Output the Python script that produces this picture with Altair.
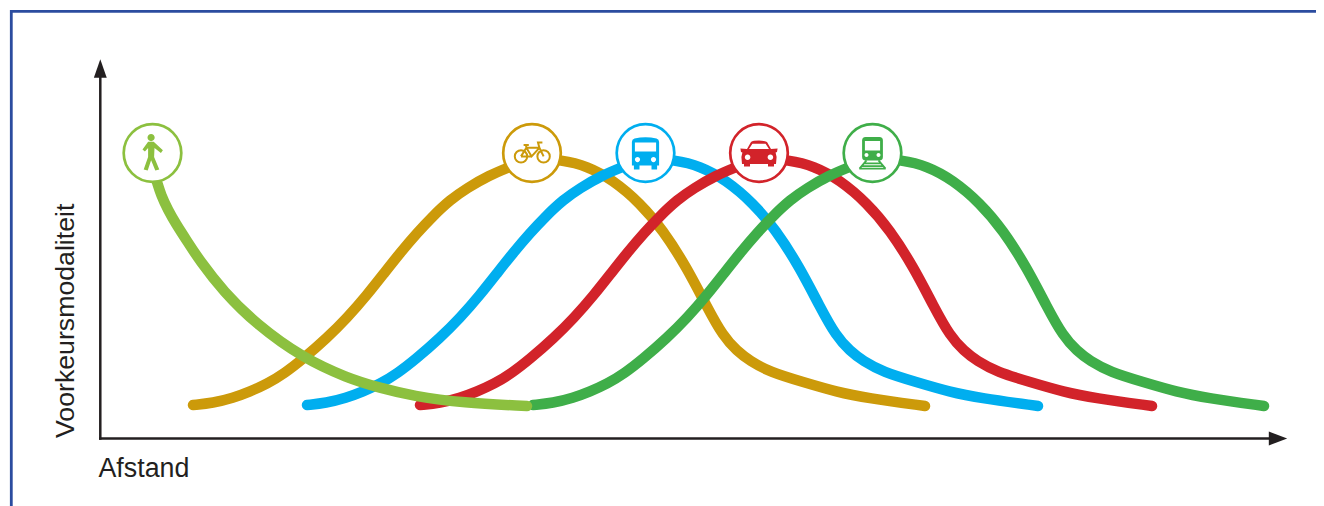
import altair as alt
import pandas as pd

TITLE_X = "Afstand"
TITLE_Y = "Voorkeursmodaliteit"
INK = "#231f20"
FRAME = "#2b4c9f"

walk_x = [157, 161, 168, 176, 187, 200, 223, 257, 303, 347, 380, 413, 463, 527]
walk_y = [182, 195, 210, 224, 241, 261, 291, 325, 358, 378, 388, 396, 403, 406]

curve_y = [405, 403, 398, 391.5, 384, 373, 359, 338, 318, 295, 272, 253, 233, 216, 200, 188, 175, 168, 158, 160, 166, 180, 203, 230, 268, 307, 336, 351, 361, 372, 382, 392, 398, 406]
fiets_x = [193, 213, 233, 250, 267, 285, 303, 327, 347, 367, 385, 400, 417, 433, 450, 467, 490, 507, 532, 562, 587, 613, 640, 663, 687, 707, 723, 737, 750, 770, 803, 837, 867, 925]
bus_x = [307, 326, 346, 363, 380, 398, 416, 440, 460, 480, 498, 513, 530, 546, 563, 580, 603, 620, 645, 675, 700, 726, 753, 776, 800, 820, 836, 850, 863, 883, 916, 950, 980, 1038]
auto_x = [420, 440, 460, 477, 494, 512, 530, 554, 574, 594, 612, 627, 644, 660, 677, 694, 717, 734, 759, 789, 814, 840, 867, 890, 914, 934, 950, 964, 977, 997, 1030, 1064, 1094, 1152]
trein_x = [533, 553, 573, 590, 607, 625, 643, 667, 687, 707, 725, 740, 757, 773, 790, 807, 830, 847, 872, 902, 927, 953, 980, 1003, 1027, 1047, 1063, 1077, 1090, 1110, 1143, 1177, 1207, 1264]

badge_x = [152.5, 532, 645.5, 759, 872.5]
badge_y = [153, 153, 153, 153, 153]
names = ["lopen", "fiets", "bus", "auto", "trein"]
colors = ["#8cc03f", "#cc9a0a", "#00aeef", "#d2232a", "#3fae49"]

ICON_SIZE = 1600  # path unit = 20 px

def circ(cx, cy, r):
    return f"M{cx - r},{cy}A{r},{r},0,1,1,{cx + r},{cy}A{r},{r},0,1,1,{cx - r},{cy}Z"

walk_fill = (circ(-0.07, -0.77, 0.18)
    + "M-0.22,-0.56L0.06,-0.56L0.52,-0.14L0.42,-0.0L0.1,-0.25L0.08,0.2L0.34,0.82L0.14,0.88L-0.07,0.36L-0.24,0.88L-0.44,0.83L-0.22,0.2L-0.22,-0.25L-0.38,-0.08L-0.5,-0.18Z")
bus_fill = ("M-0.55,-0.72Q0,-0.86,0.55,-0.72Q0.68,-0.68,0.68,-0.55L0.68,0.62L0.58,0.62L0.58,0.82L0.3,0.82L0.3,0.62"
            "L-0.3,0.62L-0.3,0.82L-0.58,0.82L-0.58,0.62L-0.68,0.62L-0.68,-0.55Q-0.68,-0.68,-0.55,-0.72Z")
bus_white = "M-0.53,-0.52L0.53,-0.52L0.53,-0.08L-0.53,-0.08Z" + circ(-0.4, 0.33, 0.13) + circ(0.4, 0.33, 0.13)
auto_fill = ("M-0.6,-0.2L-0.4,-0.55Q-0.3,-0.62,0,-0.62Q0.3,-0.62,0.4,-0.55L0.6,-0.2L0.93,-0.22L0.9,-0.05L0.83,-0.03L0.88,0.2L0.85,0.55L0.75,0.55"
             "L0.75,0.68L0.45,0.68L0.45,0.55L-0.45,0.55L-0.45,0.68L-0.75,0.68L-0.75,0.55L-0.85,0.55L-0.88,0.2L-0.83,-0.03L-0.9,-0.05L-0.93,-0.22Z")
auto_white = "M-0.5,-0.2L-0.33,-0.46L0.33,-0.46L0.5,-0.2Z" + circ(-0.57, 0.21, 0.14) + circ(0.57, 0.21, 0.14)
trein_fill = ("M-0.35,-0.8L0.35,-0.8Q0.52,-0.8,0.52,-0.62L0.52,0.2Q0.52,0.37,0.35,0.37L-0.35,0.37Q-0.52,0.37,-0.52,0.2L-0.52,-0.62Q-0.52,-0.8,-0.35,-0.8Z")
trein_white = "M-0.38,-0.6L0.38,-0.6L0.38,-0.13L-0.38,-0.13Z" + circ(-0.3, 0.1, 0.1) + circ(0.3, 0.1, 0.1)
trein_stroke = "M-0.3,0.37L-0.65,0.78M0.3,0.37L0.65,0.78M-0.43,0.52L0.43,0.52M-0.55,0.66L0.55,0.66M-0.66,0.78L0.66,0.78"
fiets_stroke = (circ(-0.55, 0.17, 0.31) + circ(0.58, 0.17, 0.31)
    + "M-0.55,0.17L-0.28,-0.26L0.37,-0.26L0.58,0.17M0.37,-0.26L0.3,-0.52L0.52,-0.52M-0.28,-0.26L-0.02,0.17L0.37,-0.26"
      "M-0.55,0.17L-0.02,0.17M-0.42,-0.4L-0.16,-0.4M-0.3,-0.4L-0.28,-0.26")

curves = pd.concat([
    pd.DataFrame({"x": fiets_x, "y": curve_y, "s": "fiets"}),
    pd.DataFrame({"x": bus_x, "y": curve_y, "s": "bus"}),
    pd.DataFrame({"x": auto_x, "y": curve_y, "s": "auto"}),
    pd.DataFrame({"x": trein_x, "y": curve_y, "s": "trein"}),
    pd.DataFrame({"x": walk_x, "y": walk_y, "s": "lopen"}),
])

X = alt.X("x:Q", axis=None, scale=alt.Scale(domain=[8, 1316], nice=False, zero=False))
Y = alt.Y("y:Q", axis=None, scale=alt.Scale(domain=[506, 8], nice=False, zero=False))
COL = alt.Color("s:N", legend=None, scale=alt.Scale(domain=names, range=colors))

layers = []
for key in ["fiets", "bus", "auto", "trein", "lopen"]:
    layers.append(alt.Chart(curves[curves.s == key]).mark_line(
        strokeWidth=10.5, strokeCap="round", strokeJoin="round", interpolate="basis", clip=False
    ).encode(x=X, y=Y, color=COL, order="x:Q"))

frame_h = pd.DataFrame({"x": [11.3], "x2": [1316], "y": [11.3]})
frame_v = pd.DataFrame({"x": [11.3], "y": [10], "y2": [506]})
layers.append(alt.Chart(frame_h).mark_rule(color=FRAME, strokeWidth=2.8).encode(x=X, x2="x2:Q", y=Y))
layers.append(alt.Chart(frame_v).mark_rule(color=FRAME, strokeWidth=2.8).encode(x=X, y=Y, y2="y2:Q"))

axis_h = pd.DataFrame({"x": [99], "x2": [1272], "y": [438.5]})
axis_v = pd.DataFrame({"x": [100.3], "y": [439.7], "y2": [75]})
layers.append(alt.Chart(axis_h).mark_rule(color=INK, strokeWidth=2.5).encode(x=X, x2="x2:Q", y=Y))
layers.append(alt.Chart(axis_v).mark_rule(color=INK, strokeWidth=2.5).encode(x=X, y=Y, y2="y2:Q"))

arrow_up = "M0,-1L0.7,1L-0.7,1Z"
arrow_right = "M1,0L-1,0.76L-1,-0.76Z"
layers.append(alt.Chart(pd.DataFrame({"x": [100.3], "y": [68.5]})).mark_point(
    shape=arrow_up, filled=True, color=INK, opacity=1, size=338, strokeWidth=0).encode(x=X, y=Y))
layers.append(alt.Chart(pd.DataFrame({"x": [1278], "y": [438.5]})).mark_point(
    shape=arrow_right, filled=True, color=INK, opacity=1, size=338, strokeWidth=0).encode(x=X, y=Y))

badges = pd.DataFrame({"x": badge_x, "y": badge_y, "s": names})
layers.append(alt.Chart(badges).mark_point(
    shape="circle", filled=True, fill="white", opacity=1, size=3318, strokeWidth=2.7
).encode(x=X, y=Y, stroke=alt.Stroke("s:N", legend=None, scale=alt.Scale(domain=names, range=colors))))

def icon(name, path, filled=True, color=None, width=0):
    d = badges[badges.s == name]
    return alt.Chart(d).mark_point(
        shape=path, filled=filled, opacity=1, size=ICON_SIZE, strokeWidth=width,
        **({"fill": color} if filled else {"stroke": color, "fill": "transparent"})
    ).encode(x=X, y=Y)

c = dict(zip(names, colors))
layers += [
    icon("lopen", walk_fill, True, c["lopen"]),
    icon("fiets", fiets_stroke, False, c["fiets"], 2),
    icon("bus", bus_fill, True, c["bus"]),
    icon("bus", bus_white, True, "white"),
    icon("auto", auto_fill, True, c["auto"]),
    icon("auto", auto_white, True, "white"),
    icon("trein", trein_fill, True, c["trein"]),
    icon("trein", trein_white, True, "white"),
    icon("trein", trein_stroke, False, c["trein"], 1.8),
]

layers.append(alt.Chart(pd.DataFrame({"x": [98.5], "y": [477], "t": [TITLE_X]})).mark_text(
    align="left", baseline="alphabetic", font="Liberation Sans", fontSize=26.8, color=INK
).encode(x=X, y=Y, text="t:N"))
layers.append(alt.Chart(pd.DataFrame({"x": [73.5], "y": [438], "t": [TITLE_Y]})).mark_text(
    align="left", baseline="alphabetic", angle=270, font="Liberation Sans", fontSize=26.7, color=INK
).encode(x=X, y=Y, text="t:N"))

chart = alt.layer(*layers).properties(
    width=1308, height=498, padding=0, autosize=alt.AutoSizeParams(type="none"),
    background="white"
).configure_view(stroke=None)

chart.save("out.html", embed_options={"renderer": "svg", "actions": False})
